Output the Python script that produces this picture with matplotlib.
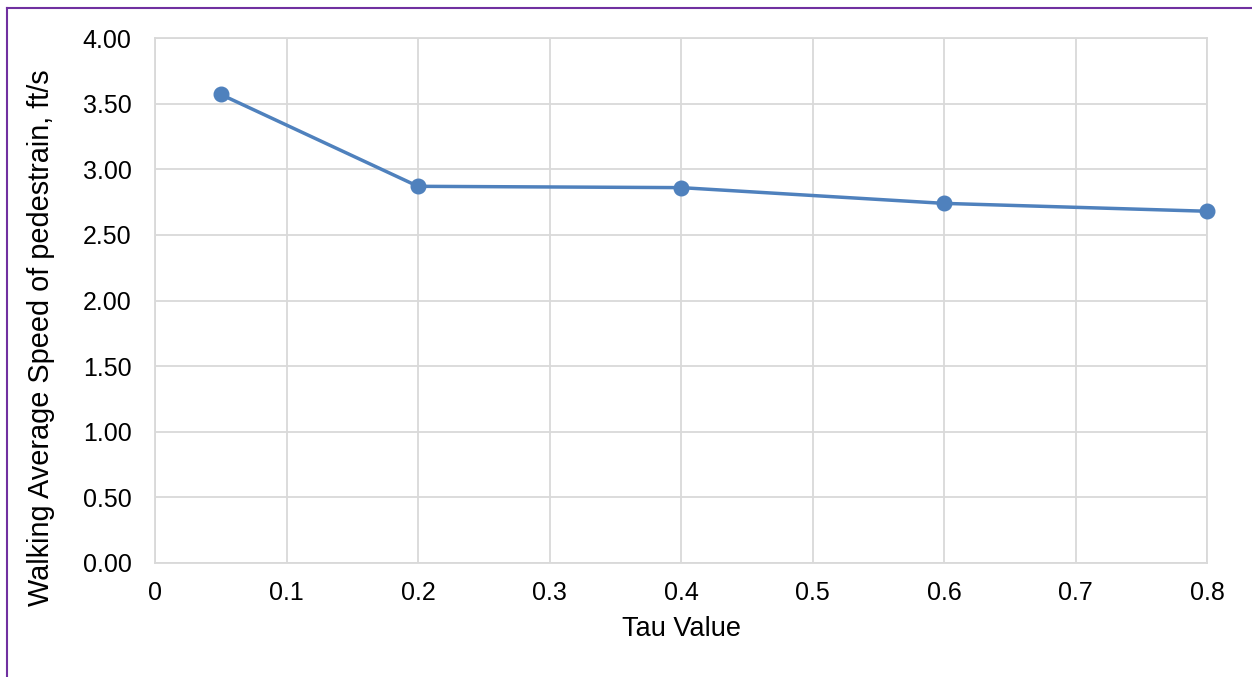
import matplotlib
matplotlib.use("Agg")
import matplotlib.pyplot as plt
from matplotlib.lines import Line2D


tau = [0.05, 0.2, 0.4, 0.6, 0.8]
speed = [3.57, 2.87, 2.86, 2.74, 2.68]

x_ticks = [0, 0.1, 0.2, 0.3, 0.4, 0.5, 0.6, 0.7, 0.8]
x_labels = ["0", "0.1", "0.2", "0.3", "0.4", "0.5", "0.6", "0.7", "0.8"]
y_ticks = [0, 0.5, 1.0, 1.5, 2.0, 2.5, 3.0, 3.5, 4.0]

plt.rcParams["font.family"] = ["Liberation Sans", "DejaVu Sans"]

fig = plt.figure(figsize=(12.52, 6.77), dpi=100)
ax = fig.add_axes([155 / 1252, 1 - 563 / 677, (1207 - 155) / 1252, (563 - 38) / 677])

ax.plot(tau, speed, color="#4f81bd", linewidth=2.5, marker="o",
        markersize=10.5, zorder=3, clip_on=False)

ax.set_xlim(0, 0.8)
ax.set_ylim(0, 4.0)
ax.set_xticks(x_ticks)
ax.set_xticklabels(x_labels)
ax.set_yticks(y_ticks)
ax.set_yticklabels(["%.2f" % v for v in y_ticks])
ax.grid(True, color="#d9d9d9", linewidth=1.3)
ax.set_axisbelow(True)
for s in ax.spines.values():
    s.set_color("#d9d9d9")
    s.set_linewidth(1.3)
ax.tick_params(length=0, labelsize=18, colors="black")
ax.tick_params(axis="x", pad=13)
ax.tick_params(axis="y", pad=17)

ax.set_xlabel("Tau Value", fontsize=19.5, labelpad=8)
ax.set_ylabel("Walking Average Speed of pedestrain, ft/s", fontsize=20.8)
ax.yaxis.set_label_coords(-0.095, 0.43)

# purple frame on top and left edge
fig.add_artist(Line2D([7 / 1252, 7 / 1252], [0, 1 - 8 / 677],
                      transform=fig.transFigure, color="#7030a0", linewidth=1.5))
fig.add_artist(Line2D([7 / 1252, 1], [1 - 8 / 677, 1 - 8 / 677],
                      transform=fig.transFigure, color="#7030a0", linewidth=1.5))

fig.savefig("out.png", dpi=100)
